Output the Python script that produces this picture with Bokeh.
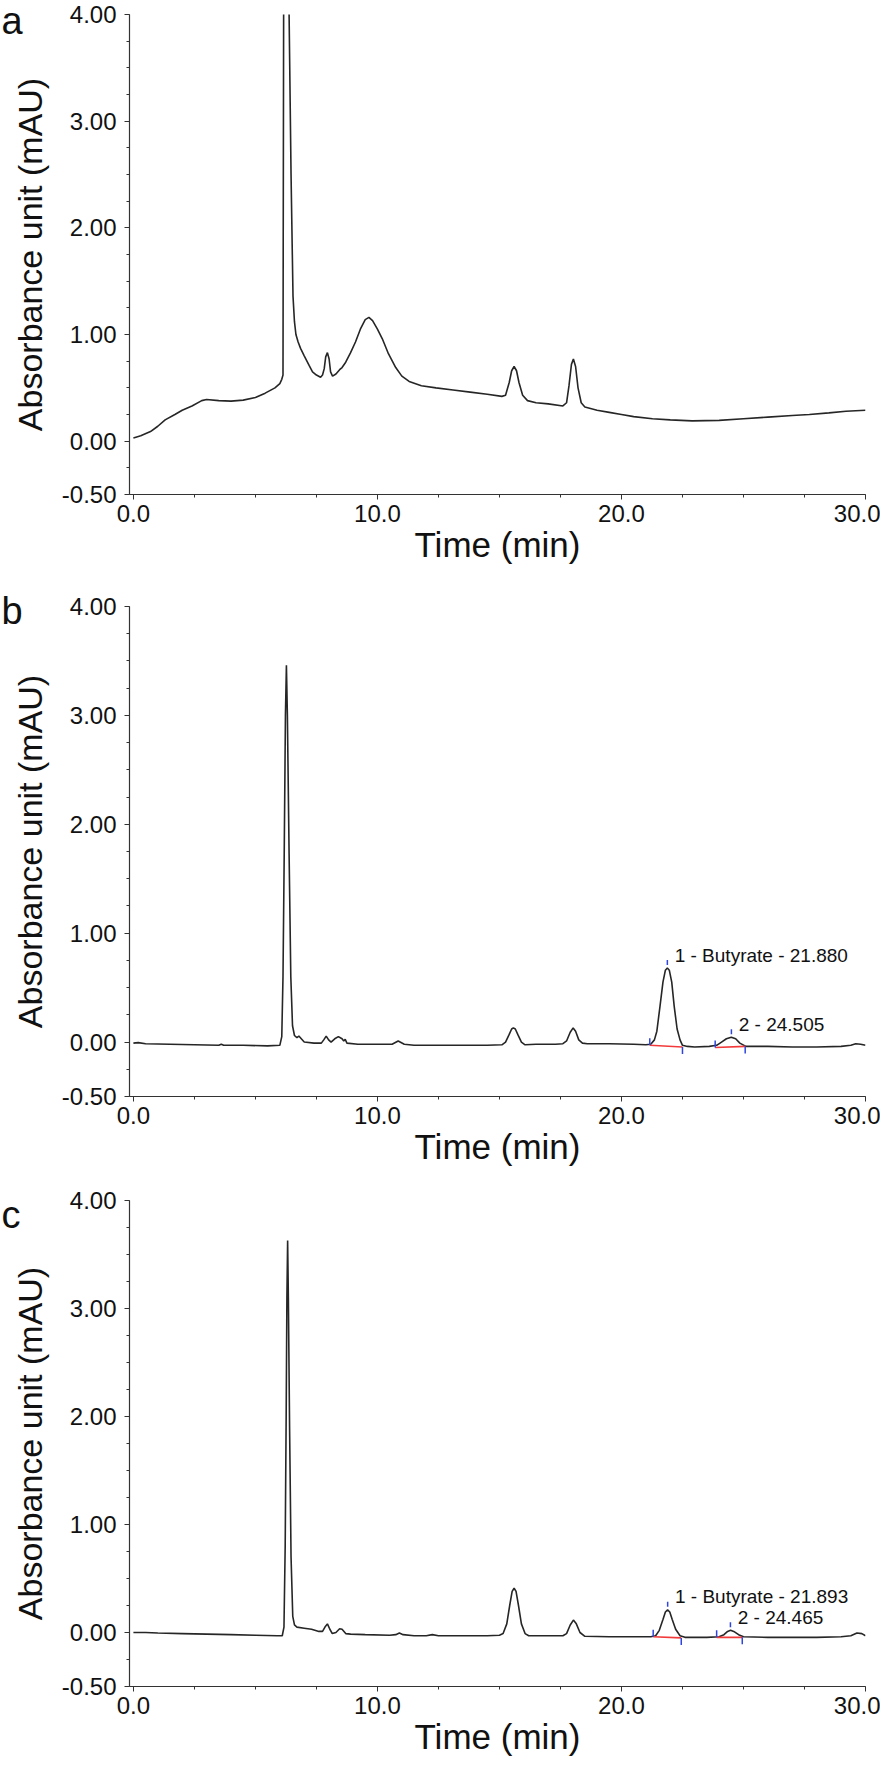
from bokeh.plotting import figure
from bokeh.layouts import column
from bokeh.models import FixedTicker, PrintfTickFormatter, Label
from bokeh.embed import file_html
from bokeh.resources import INLINE

FONT = "Liberation Sans"

# ---------------- data ----------------
# Panel a : chromatogram
a_time = [0.0, 0.3, 0.7, 1.0, 1.3, 1.7, 2.0, 2.4, 2.8, 3.0, 3.5, 4.0, 4.5, 5.0, 5.4, 5.8, 6.0, 6.08,
          6.13, 6.14, 6.16, 6.22, 6.30, 6.38, 6.46, 6.54, 6.60, 6.66, 6.75, 6.85, 7.0, 7.2, 7.34, 7.5,
          7.67, 7.75, 7.82, 7.88, 7.95, 8.02, 8.08, 8.16, 8.3, 8.45, 8.55, 8.7, 8.9, 9.1, 9.3, 9.5,
          9.65, 9.8, 10.0, 10.2, 10.45, 10.75, 11.0, 11.3, 11.8, 12.4, 13.1, 13.8, 14.5, 15.1, 15.25,
          15.4, 15.5, 15.6, 15.7, 15.8, 15.95, 16.15, 16.5, 17.0, 17.6, 17.75, 17.85, 17.95, 18.03,
          18.12, 18.22, 18.35, 18.5, 19.0, 19.5, 20.0, 20.5, 21.27, 22.0, 22.9, 24.0, 25.0, 26.0,
          27.0, 27.7, 28.5, 29.2, 30.0]
a_abs = [0.03, 0.05, 0.09, 0.14, 0.20, 0.25, 0.29, 0.33, 0.38, 0.39, 0.38, 0.375, 0.385, 0.41, 0.45,
         0.50, 0.54, 0.58, 0.62, 2.0, 4.5, 6.0, 5.0, 4.0, 2.5, 1.36, 1.12, 1.0, 0.93, 0.87, 0.80, 0.71,
         0.65, 0.62, 0.60, 0.62, 0.68, 0.79, 0.83, 0.77, 0.65, 0.61, 0.63, 0.67, 0.69, 0.74, 0.83,
         0.93, 1.05, 1.14, 1.16, 1.13, 1.05, 0.96, 0.82, 0.69, 0.61, 0.56, 0.52, 0.50, 0.48, 0.46,
         0.44, 0.42, 0.43, 0.55, 0.66, 0.70, 0.66, 0.55, 0.43, 0.38, 0.36, 0.35, 0.33, 0.36, 0.52,
         0.72, 0.77, 0.70, 0.50, 0.36, 0.32, 0.29, 0.27, 0.25, 0.23, 0.21, 0.20, 0.19, 0.195, 0.21,
         0.225, 0.24, 0.25, 0.265, 0.28, 0.29]

# Panel b : chromatogram
b_time = [0.0, 0.2, 0.5, 1.5, 2.5, 3.5, 3.6, 3.7, 4.5, 5.5, 6.0, 6.08, 6.13, 6.18, 6.23, 6.27, 6.31,
          6.38, 6.45, 6.52, 6.6, 6.7, 6.78, 6.88, 7.0, 7.4, 7.7, 7.8, 7.9, 8.0, 8.1, 8.25, 8.4, 8.55,
          8.62, 8.68, 8.75, 9.2, 10.0, 10.6, 10.85, 11.1, 11.5, 12.5, 13.5, 14.5, 15.1, 15.25, 15.4,
          15.5, 15.57, 15.65, 15.75, 15.9, 16.05, 16.5, 17.3, 17.6, 17.75, 17.9, 18.02, 18.12, 18.25,
          18.4, 18.6, 19.5, 20.5, 21.0, 21.2, 21.35, 21.45, 21.58, 21.7, 21.8, 21.88, 21.96, 22.06,
          22.16, 22.28, 22.4, 22.5, 22.7, 23.0, 23.6, 23.9, 24.1, 24.3, 24.5, 24.68, 24.85, 25.1,
          26.0, 27.0, 28.0, 29.0, 29.4, 29.6, 29.8, 30.0]
b_abs = [-0.01, -0.005, -0.015, -0.02, -0.025, -0.03, -0.02, -0.03, -0.03, -0.035, -0.03, 0.05,
         0.6, 1.73, 3.0, 3.46, 3.0, 1.73, 0.6, 0.15, 0.06, 0.04, 0.055, 0.03, 0.0, -0.01, -0.01,
         0.02, 0.055, 0.02, 0.0, 0.03, 0.05, 0.03, 0.01, 0.025, -0.01, -0.02, -0.02, -0.02, 0.01,
         -0.02, -0.03, -0.03, -0.03, -0.03, -0.025, 0.0, 0.07, 0.12, 0.13, 0.12, 0.07, 0.0, -0.025,
         -0.02, -0.02, -0.015, 0.01, 0.09, 0.13, 0.10, 0.02, -0.01, -0.015, -0.015, -0.02, -0.025,
         -0.02, 0.02, 0.1, 0.33, 0.55, 0.66, 0.68, 0.66, 0.55, 0.33, 0.12, 0.02, -0.03, -0.04,
         -0.045, -0.04, -0.03, 0.0, 0.03, 0.045, 0.03, -0.01, -0.04, -0.04, -0.045, -0.045, -0.04,
         -0.03, -0.015, -0.02, -0.03]

# Panel c : chromatogram
c_time = [0.0, 0.5, 1.0, 2.0, 3.0, 4.0, 5.0, 5.9, 6.1, 6.17, 6.22, 6.26, 6.29, 6.32, 6.35, 6.4,
          6.46, 6.53, 6.6, 6.7, 7.0, 7.3, 7.6, 7.75, 7.85, 7.95, 8.05, 8.15, 8.3, 8.45, 8.55, 8.7,
          8.9, 9.5, 10.5, 10.75, 10.9, 11.05, 11.5, 12.0, 12.25, 12.5, 13.5, 14.5, 15.0, 15.15, 15.3,
          15.42, 15.52, 15.6, 15.68, 15.78, 15.9, 16.05, 16.2, 17.0, 17.6, 17.75, 17.9, 18.03, 18.15,
          18.3, 18.5, 19.5, 20.5, 21.2, 21.4, 21.55, 21.7, 21.8, 21.89, 21.98, 22.08, 22.22, 22.4,
          22.6, 23.5, 24.0, 24.2, 24.35, 24.47, 24.6, 24.8, 25.0, 26.0, 27.0, 28.0, 29.0, 29.4,
          29.65, 29.85, 30.0]
c_abs = [0.0, 0.0, -0.005, -0.01, -0.015, -0.02, -0.025, -0.03, -0.03, 0.05, 0.8, 2.0, 3.1, 3.63,
         3.1, 1.9, 0.7, 0.15, 0.07, 0.05, 0.04, 0.03, 0.01, 0.01, 0.05, 0.08, 0.03, -0.01, 0.0,
         0.035, 0.03, -0.01, -0.015, -0.02, -0.025, -0.02, -0.005, -0.02, -0.03, -0.03, -0.02,
         -0.03, -0.03, -0.03, -0.025, -0.01, 0.08, 0.25, 0.38, 0.41, 0.38, 0.25, 0.08, -0.01, -0.03,
         -0.03, -0.03, -0.01, 0.07, 0.115, 0.08, 0.0, -0.035, -0.04, -0.04, -0.04, -0.03, 0.02,
         0.12, 0.19, 0.21, 0.19, 0.12, 0.03, -0.03, -0.045, -0.045, -0.04, -0.02, 0.01, 0.02, 0.01,
         -0.02, -0.04, -0.045, -0.045, -0.045, -0.04, -0.03, -0.005, -0.01, -0.03]

# Integrated peaks (b and c): name, retention time, apex height, start/end of integration baseline
b_peak_names = ["1 - Butyrate - 21.880", "2 - 24.505"]
b_peak_rt = [21.88, 24.505]
b_peak_apex = [0.68, 0.045]
b_peak_start_t = [21.16, 23.84]
b_peak_start_y = [-0.03, -0.05]
b_peak_end_t = [22.50, 25.07]
b_peak_end_y = [-0.045, -0.04]

c_peak_names = ["1 - Butyrate - 21.893", "2 - 24.465"]
c_peak_rt = [21.893, 24.465]
c_peak_apex = [0.21, 0.02]
c_peak_start_t = [21.30, 23.90]
c_peak_start_y = [-0.04, -0.045]
c_peak_end_t = [22.45, 24.95]
c_peak_end_y = [-0.05, -0.045]

y_major = [-0.5, 0.0, 1.0, 2.0, 3.0, 4.0]
y_minor = [-0.5 + 0.25 * i for i in range(19)]
x_major = [0.0, 10.0, 20.0, 30.0]
x_minor = [2.5 * i for i in range(13)]

panel_letters = ["a", "b", "c"]

LINE = "#262626"
RED = "#f23a3a"
BLUE = "#2f45e0"
X0, X1 = -0.16, 30.0
Y0, Y1 = -0.5, 4.0
WIDTH = 880
LEFT, RIGHT = 129, 15
LETTER_H = 50


def make_panel(t, y, height, top, bottom, peaks=None):
    frame_h = height - top - bottom
    py = (Y1 - Y0) / frame_h          # data units per pixel (y)

    p = figure(width=WIDTH, height=height, output_backend="svg", toolbar_location=None,
               x_range=(X0, X1), y_range=(Y0, Y1),
               min_border_left=LEFT, min_border_right=RIGHT,
               min_border_top=top, min_border_bottom=bottom,
               background_fill_color="white", border_fill_color="white")
    p.outline_line_color = None
    p.xgrid.visible = False
    p.ygrid.visible = False

    p.line(t, y, line_color=LINE, line_width=1.6)

    if peaks is not None:
        names, rts, apex, st, sy, et, ey = peaks
        p.segment(x0=st, y0=sy, x1=et, y1=ey, line_color=RED, line_width=1.6)
        p.segment(x0=st, y0=sy, x1=st, y1=[v + 7 * py for v in sy], line_color=BLUE, line_width=1.5)
        p.segment(x0=et, y0=ey, x1=et, y1=[v - 7 * py for v in ey], line_color=BLUE, line_width=1.5)
        p.segment(x0=rts, y0=[v + 3 * py for v in apex], x1=rts, y1=[v + 8 * py for v in apex],
                  line_color=BLUE, line_width=1.5)
        for n, r, a in zip(names, rts, apex):
            p.add_layout(Label(x=r + 0.3, y=a + 13 * py, text=n, text_font=FONT,
                               text_font_size="19px", text_color="#111111",
                               text_baseline="middle", text_align="left"))

    for ax in (p.xaxis[0], p.yaxis[0]):
        ax.axis_line_color = "#333333"
        ax.axis_line_width = 1.2
        ax.major_tick_line_color = "#333333"
        ax.minor_tick_line_color = "#333333"
        ax.major_tick_out = 5
        ax.major_tick_in = 0
        ax.minor_tick_out = 3
        ax.minor_tick_in = 0
        ax.major_label_text_font = FONT
        ax.major_label_text_font_size = "24px"
        ax.major_label_text_color = "#111111"
        ax.axis_label_text_font = FONT
        ax.axis_label_text_font_style = "normal"
        ax.axis_label_text_color = "#111111"

    p.yaxis.ticker = FixedTicker(ticks=y_major, minor_ticks=y_minor)
    p.yaxis.formatter = PrintfTickFormatter(format="%.2f")
    p.yaxis.axis_label = "Absorbance unit (mAU)"
    p.yaxis.axis_label_text_font_size = "34px"
    p.yaxis.major_label_standoff = 8
    p.yaxis.axis_label_standoff = 10

    p.xaxis.ticker = FixedTicker(ticks=x_major, minor_ticks=x_minor)
    p.xaxis.formatter = PrintfTickFormatter(format="%.1f")
    p.xaxis.axis_label = "Time (min)"
    p.xaxis.axis_label_text_font_size = "35px"
    p.xaxis.major_label_standoff = 5
    p.xaxis.axis_label_standoff = 0
    return p


def make_letter(letter, baseline_from_top, shift_up):
    """Transparent full-width strip holding a panel letter; a negative margin pulls it
    up over the figure placed before it (net height 0 in the column)."""
    lf = figure(width=WIDTH, height=LETTER_H, output_backend="svg", toolbar_location=None,
                x_axis_location=None, y_axis_location=None,
                min_border=0, min_border_left=0, min_border_right=0,
                min_border_top=0, min_border_bottom=0,
                x_range=(0, 1), y_range=(0, 1),
                background_fill_color=None, border_fill_color=None)
    if "frame_align" in lf.properties():
        lf.frame_align = False
    lf.outline_line_color = None
    lf.grid.visible = False
    lf.add_layout(Label(x=1, y=LETTER_H - baseline_from_top, x_units="screen", y_units="screen",
                        text=letter, text_font=FONT, text_font_size="38px",
                        text_color="#111111", text_baseline="alphabetic", text_align="left"))
    lf.margin = (-shift_up, 0, shift_up - LETTER_H, 0)
    return lf


H_A, H_B, H_C = 592, 594, 578
pa = make_panel(a_time, a_abs, H_A, 14, 98)
pb = make_panel(b_time, b_abs, H_B, 14, 90,
                (b_peak_names, b_peak_rt, b_peak_apex, b_peak_start_t, b_peak_start_y,
                 b_peak_end_t, b_peak_end_y))
pc = make_panel(c_time, c_abs, H_C, 14, 78,
                (c_peak_names, c_peak_rt, c_peak_apex, c_peak_start_t, c_peak_start_y,
                 c_peak_end_t, c_peak_end_y))

# letters: a at the very top of panel a, b/c slightly above their panels' top edge
la = make_letter(panel_letters[0], 20, H_A)
lb = make_letter(panel_letters[1], 30, H_B + 12)
lc = make_letter(panel_letters[2], 30, H_C + 2)

layout = column(pa, la, pb, lb, pc, lc, spacing=0)
open("out.html", "w").write(file_html(layout, INLINE))
